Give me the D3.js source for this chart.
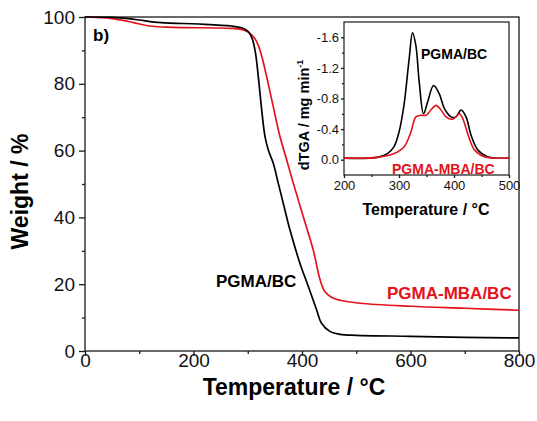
<html lang="en">
<head>
<meta charset="utf-8">
<title>TGA</title>
<script src="https://d3js.org/d3.v7.min.js"></script>
<style>
  body { margin: 0; background: #fff; }
  text { font-family: "Liberation Sans", Arial, sans-serif; }
</style>
</head>
<body>
<div id="chart"></div>
<script>
// main TGA curves (temperature / weight %)
var tempBC   = [0, 50, 80, 100, 140, 210, 270, 290, 300, 308, 314, 319.5, 325.7, 331.8, 337.9, 347, 356.3, 365.5, 377.9, 396.3, 411.7, 427, 436, 452, 470, 500, 600, 700, 800];
var weightBC = [100, 99.9, 99.5, 99.1, 98.3, 97.9, 97.3, 96.7, 95.8, 93.6, 89.5, 82.1, 72.2, 64.2, 60.2, 56.2, 50.2, 44.2, 36.2, 26.2, 19.3, 12.3, 8.3, 5.8, 5.0, 4.7, 4.4, 4.1, 3.9];
var tempMBA   = [0, 40, 70, 90, 120, 160, 270, 290, 302, 312, 319.5, 325.7, 334.9, 347.1, 359.4, 371.8, 384, 402.4, 420.8, 433, 442, 455, 470, 507, 600, 700, 800];
var weightMBA = [100, 99.7, 99.0, 98.3, 97.3, 96.9, 96.6, 96.2, 95.4, 93.8, 91.5, 88.3, 82.1, 73.1, 64.2, 57.2, 50.2, 40.2, 30.2, 21.5, 17.8, 16.0, 15.2, 14.3, 13.4, 12.8, 12.2];

// inset dTGA curves
var dtgTempBC = [200, 260, 279, 291, 300, 309, 318.5, 324.6, 330.7, 336.8, 344.6, 351.9, 362.9, 373.3, 382.4, 394.6, 403.7, 412.8, 421.9, 431, 443, 461, 500];
var dtgBC     = [-0.02, -0.03, -0.08, -0.17, -0.36, -0.71, -1.32, -1.66, -1.49, -1.01, -0.60, -0.75, -0.97, -0.86, -0.67, -0.56, -0.56, -0.65, -0.56, -0.32, -0.13, -0.04, -0.02];
var dtgTempMBA = [200, 260, 291, 309.4, 321.6, 330.7, 339.8, 349, 358, 367.2, 376.3, 385.5, 397.5, 409.7, 415.8, 425.8, 437, 455, 500];
var dtgMBA     = [-0.02, -0.03, -0.08, -0.17, -0.36, -0.56, -0.58, -0.58, -0.65, -0.71, -0.65, -0.56, -0.53, -0.60, -0.54, -0.32, -0.13, -0.04, -0.02];

var xTicks = [0, 200, 400, 600, 800], xMinor = [100, 300, 500, 700];
var yTicks = [0, 20, 40, 60, 80, 100], yMinor = [10, 30, 50, 70, 90];
var ixTicks = [200, 300, 400, 500], ixMinor = [250, 350, 450];
var iyTicks = [0, -0.4, -0.8, -1.2, -1.6], iyMinor = [-0.2, -0.6, -1.0, -1.4];

var RED = "#e3121b", AX = "#1a1a1a";

var svg = d3.select("#chart").append("svg")
  .attr("width", 537).attr("height", 421);

var x = d3.scaleLinear().domain([0, 800]).range([85, 519]);
var y = d3.scaleLinear().domain([0, 100]).range([351, 17]);

function styleAxis(g) {
  g.select(".domain").remove();
  g.selectAll("line").attr("stroke", AX).attr("stroke-width", 1.3);
}

// main axes
svg.append("g").attr("transform", "translate(0,351)")
  .call(d3.axisBottom(x).tickValues(xMinor).tickSize(3).tickFormat(""))
  .call(styleAxis);
var gx = svg.append("g").attr("transform", "translate(0,351)")
  .call(d3.axisBottom(x).tickValues(xTicks).tickSize(5).tickFormat(d3.format("d")))
  .call(styleAxis);
gx.selectAll("text").attr("dy", null).attr("y", 16)
  .attr("font-size", 19).attr("fill", "#111");

svg.append("g").attr("transform", "translate(85,0)")
  .call(d3.axisLeft(y).tickValues(yMinor).tickSize(3).tickFormat(""))
  .call(styleAxis);
var gy = svg.append("g").attr("transform", "translate(85,0)")
  .call(d3.axisLeft(y).tickValues(yTicks).tickSize(6).tickPadding(4).tickFormat(d3.format("d")))
  .call(styleAxis);
gy.selectAll("text").attr("font-size", 19).attr("fill", "#111");

svg.append("rect").attr("x", 85).attr("y", 17).attr("width", 434).attr("height", 334)
  .attr("fill", "none").attr("stroke", AX).attr("stroke-width", 1.3);

// main curves
var line = d3.line().curve(d3.curveCatmullRom.alpha(0.5))
  .x(function(d) { return x(d[0]); })
  .y(function(d) { return y(d[1]); });

svg.append("path").datum(d3.zip(tempMBA, weightMBA))
  .attr("d", line).attr("fill", "none").attr("stroke", RED).attr("stroke-width", 1.7);
svg.append("path").datum(d3.zip(tempBC, weightBC))
  .attr("d", line).attr("fill", "none").attr("stroke", "#000").attr("stroke-width", 1.7);

// titles and labels
svg.append("text").attr("x", 294).attr("y", 395).attr("text-anchor", "middle")
  .attr("font-size", 23).attr("font-weight", "bold").text("Temperature / °C");
svg.append("text").attr("transform", "translate(28,191.5) rotate(-90)").attr("text-anchor", "middle")
  .attr("font-size", 23).attr("font-weight", "bold").text("Weight / %");
svg.append("text").attr("x", 93).attr("y", 41)
  .attr("font-size", 17).attr("font-weight", "bold").text("b)");
svg.append("text").attr("x", 216).attr("y", 287)
  .attr("font-size", 17).attr("font-weight", "bold").text("PGMA/BC");
svg.append("text").attr("x", 387).attr("y", 299).attr("fill", RED)
  .attr("font-size", 17).attr("font-weight", "bold").text("PGMA-MBA/BC");

// inset
var ix = d3.scaleLinear().domain([200, 500]).range([344, 509]);
var iy = d3.scaleLinear().domain([0.2, -1.8]).range([175, 22]);

svg.append("rect").attr("x", 344).attr("y", 22).attr("width", 165).attr("height", 153)
  .attr("fill", "#fff");

svg.append("g").attr("transform", "translate(0,175)")
  .call(d3.axisBottom(ix).tickValues(ixMinor).tickSize(2).tickFormat(""))
  .call(styleAxis);
var igx = svg.append("g").attr("transform", "translate(0,175)")
  .call(d3.axisBottom(ix).tickValues(ixTicks).tickSize(3).tickFormat(d3.format("d")))
  .call(styleAxis);
igx.selectAll("text").attr("dy", null).attr("y", 14.5).attr("font-size", 13).attr("fill", "#111");

svg.append("g").attr("transform", "translate(344,0)")
  .call(d3.axisLeft(iy).tickValues(iyMinor).tickSize(2).tickFormat(""))
  .call(styleAxis);
var igy = svg.append("g").attr("transform", "translate(344,0)")
  .call(d3.axisLeft(iy).tickValues(iyTicks).tickSize(3).tickPadding(2)
    .tickFormat(function(d) { return d.toFixed(1); }))
  .call(styleAxis);
igy.selectAll("text").attr("font-size", 13).attr("fill", "#111");

svg.append("rect").attr("x", 344).attr("y", 22).attr("width", 165).attr("height", 153)
  .attr("fill", "none").attr("stroke", AX).attr("stroke-width", 1.2);

var iline = d3.line().curve(d3.curveCatmullRom.alpha(0.5))
  .x(function(d) { return ix(d[0]); })
  .y(function(d) { return iy(d[1]); });

svg.append("path").datum(d3.zip(dtgTempBC, dtgBC))
  .attr("d", iline).attr("fill", "none").attr("stroke", "#000").attr("stroke-width", 1.6);
svg.append("path").datum(d3.zip(dtgTempMBA, dtgMBA))
  .attr("d", iline).attr("fill", "none").attr("stroke", RED).attr("stroke-width", 1.6);

svg.append("text").attr("x", 421).attr("y", 58.5)
  .attr("font-size", 14).attr("font-weight", "bold").text("PGMA/BC");
svg.append("text").attr("x", 392).attr("y", 173.5).attr("fill", RED)
  .attr("font-size", 14).attr("font-weight", "bold").text("PGMA-MBA/BC");

svg.append("text").attr("x", 426).attr("y", 214.5).attr("text-anchor", "middle")
  .attr("font-size", 16).attr("font-weight", "bold").text("Temperature / °C");

var iyt = svg.append("text").attr("transform", "translate(309,115) rotate(-90)")
  .attr("text-anchor", "middle").attr("font-size", 14.5).attr("font-weight", "bold");
iyt.append("tspan").text("dTGA / mg min");
iyt.append("tspan").attr("dy", -6).attr("font-size", 9).text("-1");
</script>
</body>
</html>
